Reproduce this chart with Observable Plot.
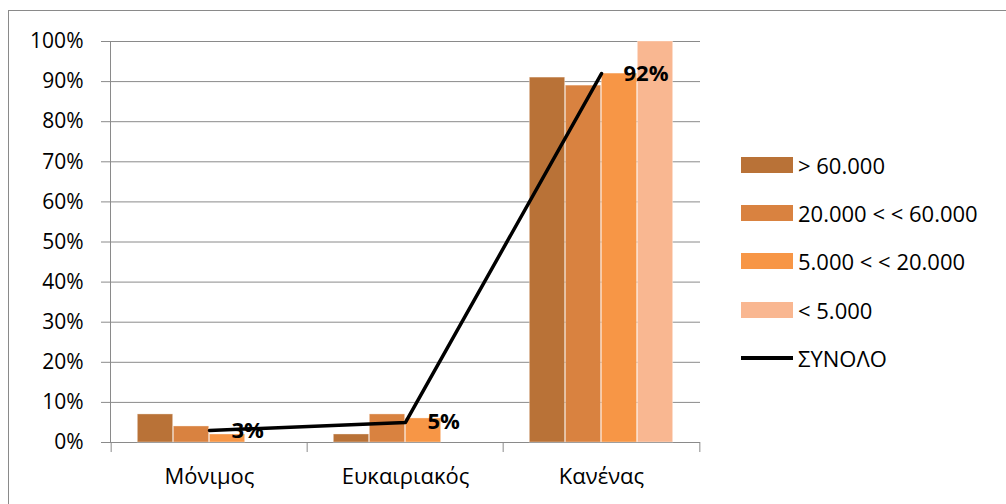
<!DOCTYPE html>
<html>
<head>
<meta charset="utf-8">
<script src="https://cdn.jsdelivr.net/npm/d3@7"></script>
<script src="https://cdn.jsdelivr.net/npm/@observablehq/plot@0.6"></script>
<style>
  html, body { margin: 0; padding: 0; background: #fff; }
  body { width: 1006px; height: 504px; position: relative; overflow: hidden; font-family: "Open Sans", sans-serif; }
  #frame { position: absolute; left: 8px; top: 10px; width: 1100px; height: 600px; border: 1px solid #8a8a8a; box-sizing: border-box; }
  #chart { position: absolute; left: 0; top: 0; }
  #legend { position: absolute; left: 741px; top: 0; font-size: 22px; color: #000; }
  .item { position: absolute; left: 0; height: 24px; display: flex; align-items: center; white-space: nowrap; }
  .sw { width: 52px; height: 16px; margin-right: 5px; }
  .ln { width: 52px; height: 3.5px; background: #000; margin-right: 5px; }
</style>
</head>
<body>
<div id="frame"></div>
<div id="chart"></div>
<div id="legend"></div>
<script>
// ---- data ----
const categories = ["Μόνιμος", "Ευκαιριακός", "Κανένας"];
const seriesNames = ["> 60.000", "20.000 < < 60.000", "5.000 < < 20.000", "< 5.000"];
const seriesColors = ["#B97237", "#D98240", "#F79646", "#F9B791"];
const valuesOver60k   = [0.07, 0.02, 0.91];
const values20to60k   = [0.04, 0.07, 0.89];
const values5to20k    = [0.02, 0.06, 0.92];
const valuesUnder5k   = [0.00, 0.00, 1.00];
const totalName = "ΣΥΝΟΛΟ";
const totalValues = [0.03, 0.05, 0.92];
const yTicks = [0, 0.1, 0.2, 0.3, 0.4, 0.5, 0.6, 0.7, 0.8, 0.9, 1.0];

// ---- layout ----
const W = 1006, H = 504;
const mL = 110, mR = 306, mT = 41, mB = 62;
const bw = (W - mL - mR) / categories.length; // band width
const barW = 36;
const inset = (bw - barW) / 2;
const gray = "#8a8a8a";

const seriesValues = [valuesOver60k, values20to60k, values5to20k, valuesUnder5k];
const barMarks = seriesValues.map((vals, i) =>
  Plot.barY(categories.map((c, j) => ({cat: c, value: vals[j]})), {
    x: "cat", y: "value", fill: seriesColors[i],
    insetLeft: inset, insetRight: inset, dx: (i - 1.5) * barW,
    stroke: "#fff", strokeOpacity: 0.35, strokeWidth: 1
  })
);
const totals = categories.map((c, j) => ({cat: c, value: totalValues[j]}));

const chart = Plot.plot({
  width: W, height: H,
  marginLeft: mL, marginRight: mR, marginTop: mT, marginBottom: mB,
  style: {fontFamily: "'Open Sans', sans-serif", background: "transparent", color: "#000"},
  x: {domain: categories, padding: 0, axis: null, label: null},
  y: {domain: [0, 1], axis: null, label: null},
  marks: [
    Plot.gridY(yTicks, {stroke: gray, strokeOpacity: 1, strokeWidth: 1}),
    Plot.axisY(yTicks, {tickSize: 9, tickPadding: 18, stroke: gray, strokeOpacity: 1, fontSize: 21, fill: "#000",
      label: null, tickFormat: d => Math.round(d * 100) + "%"}),
    Plot.axisX(categories, {tickSize: 0, tickPadding: 26, fontSize: 22, fill: "#000", label: null}),
    Plot.frame({anchor: "left", stroke: gray, strokeOpacity: 1}),
    Plot.ruleX(categories, {x: d => d, dx: -bw / 2, y1: 0, y2: -0.025, stroke: gray}),
    Plot.ruleX(categories.slice(-1), {x: d => d, dx: bw / 2, y1: 0, y2: -0.025, stroke: gray}),
    ...barMarks,
    Plot.lineY(totals, {x: "cat", y: "value", stroke: "#000", strokeWidth: 3.5}),
    Plot.text(totals, {x: "cat", y: "value", text: d => Math.round(d.value * 100) + "%", dx: 22,
      textAnchor: "start", fontWeight: "bold", fontSize: 22, fill: "#000"})
  ]
});
document.getElementById("chart").appendChild(chart);

// ---- legend ----
const legend = document.getElementById("legend");
const rowY = [164.5, 213, 261, 310, 358];
seriesNames.forEach((name, i) => {
  const it = document.createElement("div");
  it.className = "item";
  it.style.top = (rowY[i] - 12) + "px";
  it.innerHTML = `<div class="sw" style="background:${seriesColors[i]}"></div><span>${name}</span>`;
  legend.appendChild(it);
});
const it = document.createElement("div");
it.className = "item";
it.style.top = (rowY[4] - 12) + "px";
it.innerHTML = `<div class="ln"></div><span>${totalName}</span>`;
legend.appendChild(it);
</script>
</body>
</html>
